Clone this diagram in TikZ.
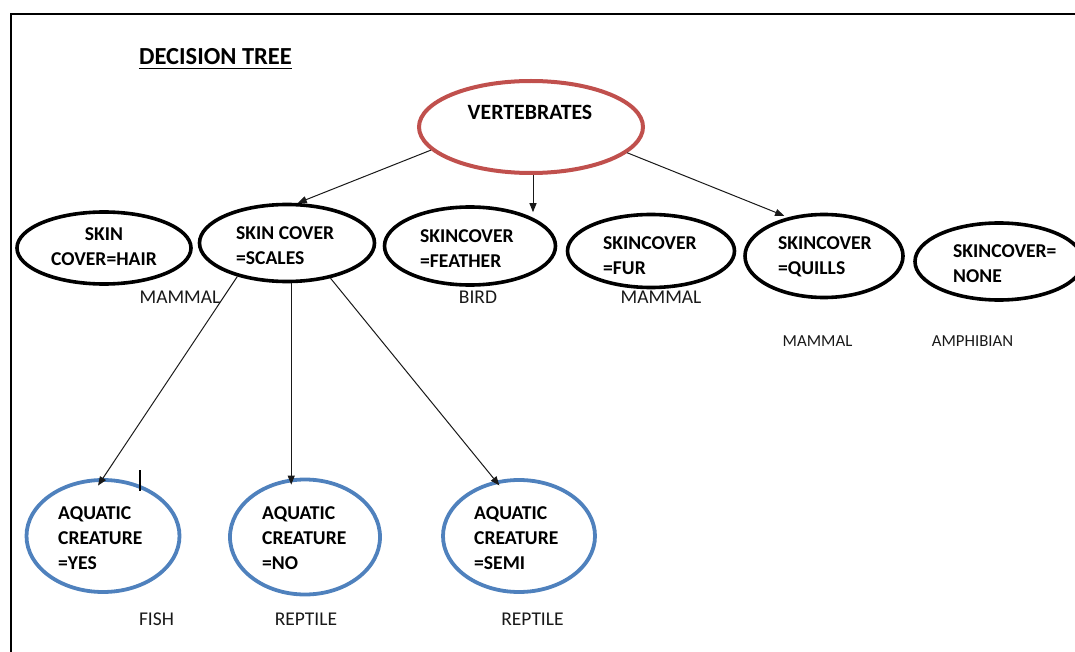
\documentclass[tikz,border=0pt]{standalone}
\usepackage{fontspec}
\setmainfont{Carlito}
\usetikzlibrary{shapes.geometric,arrows.meta}
\definecolor{rootred}{HTML}{C0504D}
\definecolor{leafblue}{HTML}{4F81BD}
\begin{document}
\begin{tikzpicture}[x=1pt,y=-1pt,
  boldtxt/.style={font=\fontsize{19.6}{25}\selectfont\bfseries, inner sep=0pt},
  caption/.style={boldtxt, align=left, anchor=west},
  oval/.style={ellipse, draw, inner sep=0pt, line width=3.6pt},
  skin/.style={oval, draw=black},
  aquatic/.style={oval, draw=leafblue, line width=3.8pt},
  answer/.style={font=\fontsize{19.5}{22}\selectfont, text=black!90, inner sep=0pt},
  smallanswer/.style={answer, font=\fontsize{16.8}{20}\selectfont},
  link/.style={line width=1pt, draw=black!90, -{Triangle[length=9pt,width=7pt]}},
]
\useasboundingbox (0,0) rectangle (1075,652);
\clip (0,0) rectangle (1075,652);

% page frame
\draw[line width=2.8pt] (1085,14) -- (11,14) -- (11,665);

% heading
\node[inner sep=0pt, font=\fontsize{24.5}{28}\selectfont\bfseries] (title) at (215.5,57) {DECISION TREE};
\draw[line width=1.4pt] ([yshift=-3.5pt]title.base west) -- ([yshift=-3.5pt]title.base east);

% root
\node[oval, draw=rootred, line width=4pt, minimum width=224pt, minimum height=92pt] (vert) at (531,127) {};
\node[inner sep=0pt, font=\fontsize{21.8}{25}\selectfont\bfseries] (vtext) at (530,112.5) {VERTEBRATES};

% skin cover level: outlines
\node[skin, minimum width=174pt, minimum height=72pt] (hair) at (104,248) {};
\node[skin, minimum width=175pt, minimum height=77pt] (scales) at (287,243) {};
\node[skin, minimum width=171pt, minimum height=78pt] (feather) at (470,246) {};
\node[skin, minimum width=167pt, minimum height=73pt] (fur) at (651,251) {};
\node[skin, minimum width=158pt, minimum height=83pt] (quills) at (824,256) {};
\node[skin, minimum width=168pt, minimum height=77pt] (none) at (999,261.5) {};
% skin cover level: texts
\node[boldtxt, align=center] (hairtxt) at (104,246.5) {SKIN\\COVER=HAIR};
\node[caption] (scalestxt) at (236,245.5) {SKIN COVER\\=SCALES};
\node[caption] (feathertxt) at (420,248.5) {SKINCOVER\\=FEATHER};
\node[caption] (furtxt) at (603,255.5) {SKINCOVER\\=FUR};
\node[caption] (quillstxt) at (778,256.5) {SKINCOVER\\=QUILLS};
\node[caption] (nonetxt) at (953,263.5) {SKINCOVER=\\NONE};

% aquatic level
\node[aquatic, minimum width=153pt, minimum height=112pt] (yes) at (103,536) {};
\node[aquatic, minimum width=150pt, minimum height=115pt] (no) at (305,537) {};
\node[aquatic, minimum width=152pt, minimum height=112pt] (semi) at (519,536) {};
\node[caption] (yestxt) at (58,538) {AQUATIC\\CREATURE\\=YES};
\node[caption] (notxt) at (262,538.5) {AQUATIC\\CREATURE\\=NO};
\node[caption] (semitxt) at (474,538) {AQUATIC\\CREATURE\\=SEMI};

% class labels
\node[answer] (lmammal1) at (180,297.5) {MAMMAL};
\node[answer] (lbird) at (478,297.5) {BIRD};
\node[answer] (lmammal2) at (661,297.5) {MAMMAL};
\node[smallanswer] (lmammal3) at (817.5,341.5) {MAMMAL};
\node[smallanswer] (lamph) at (972.5,341.5) {AMPHIBIAN};
\node[answer] (lfish) at (156.5,619) {FISH};
\node[answer] (lrep1) at (306,619) {REPTILE};
\node[answer] (lrep2) at (532.5,619) {REPTILE};

% connectors
\draw[link] (vert.193.6) -- (scales.75);
\draw[link] ([xshift=2pt]vert.south) -- ([xshift=2pt,yshift=-7pt]vert.south |- feather.north);
\draw[link, shorten >=4pt] (vert.345.5) -- (quills.133.6);
\draw[link, shorten >=-9pt] (scales.214.5) -- (yes.north);
\draw[link, shorten >=-7pt] (scales.-84) -- (scales.-84 |- no.north);
\draw[link, shorten >=-6pt] (scales.321.7) -- (semi.113.6);

% text cursor mark
\draw[line width=1.6pt] (140,470) -- (140,491);
\end{tikzpicture}
\end{document}
